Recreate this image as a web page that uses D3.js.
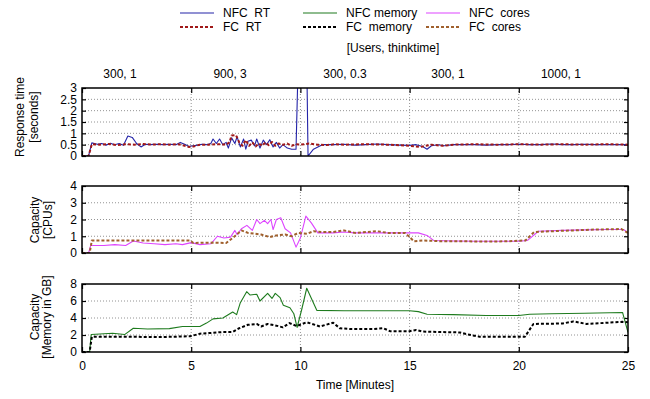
<!DOCTYPE html>
<html>
<head>
<meta charset="utf-8">
<script src="https://cdn.jsdelivr.net/npm/d3@7"></script>
<style>
  body { margin: 0; background: #fff; }
  text { font-family: "Liberation Sans", Arial, sans-serif; font-size: 12px; fill: #000; }
</style>
</head>
<body>
<div id="chart"></div>
<script>
// time in minutes
let timeTicks = [0, 5, 10, 15, 20, 25]
let phaseLabels = ['300, 1', '900, 3', '300, 0.3', '300, 1', '1000, 1']
let phasePos = [1.74, 6.78, 12.04, 16.76, 21.93]

let rtNfc = [[0,0],[0.3,0],[0.45,0.58],[0.7,0.52],[0.9,0.55],[1.1,0.48],[1.3,0.56],[1.5,0.5],[1.7,0.55],[1.9,0.47],
  [2.1,0.88],[2.3,0.82],[2.5,0.55],[2.7,0.4],[2.9,0.52],[3.1,0.5],[3.4,0.52],[3.7,0.5],[4.0,0.52],[4.3,0.5],
  [4.5,0.6],[4.7,0.52],[4.9,0.42],[5.1,0.45],[5.3,0.48],[5.5,0.52],[5.7,0.5],[5.9,0.55],[6.0,0.75],[6.15,0.55],
  [6.3,0.75],[6.45,0.5],[6.6,0.6],[6.7,0.35],[6.85,0.8],[7.0,0.55],[7.1,0.85],[7.25,0.4],[7.4,0.75],[7.5,0.3],
  [7.6,0.65],[7.75,0.7],[7.9,0.45],[8.0,0.75],[8.15,0.35],[8.3,0.7],[8.45,0.5],[8.6,0.72],[8.75,0.4],[8.9,0.6],
  [9.05,0.35],[9.2,0.5],[9.4,0.35],[9.6,0.3],[9.8,0.3],[9.92,5],[10.28,5],[10.35,0],[10.6,0.3],[11.0,0.5],
  [11.5,0.5],[12,0.52],[12.5,0.48],[13,0.5],[13.5,0.53],[14,0.5],[14.5,0.48],[15,0.47],[15.3,0.5],[15.6,0.42],
  [15.8,0.3],[16.0,0.45],[16.3,0.5],[16.6,0.45],[17,0.5],[17.5,0.5],[18,0.5],[18.5,0.48],[19,0.5],[19.5,0.5],
  [20,0.52],[20.5,0.5],[21,0.5],[21.5,0.53],[22,0.5],[22.5,0.5],[23,0.52],[23.5,0.5],[24,0.5],[24.5,0.5],[25,0.5]]

let rtFc = [[0,0],[0.3,0],[0.45,0.52],[0.8,0.5],[1.2,0.53],[1.6,0.48],[2.0,0.52],[2.4,0.5],[2.8,0.53],[3.2,0.5],
  [3.6,0.52],[4.0,0.5],[4.4,0.52],[4.7,0.45],[4.9,0.4],[5.1,0.42],[5.4,0.5],[5.8,0.5],[6.2,0.52],[6.6,0.5],
  [6.75,0.6],[6.85,0.9],[7.05,0.92],[7.2,0.6],[7.35,0.45],[7.5,0.7],[7.65,0.45],[7.8,0.6],[7.95,0.42],[8.1,0.55],
  [8.25,0.45],[8.4,0.6],[8.55,0.48],[8.7,0.62],[8.85,0.45],[9.0,0.55],[9.2,0.5],[9.4,0.55],[9.6,0.45],[9.8,0.52],
  [10.0,0.5],[10.4,0.55],[10.8,0.5],[11.2,0.48],[11.6,0.52],[12,0.5],[13,0.52],[14,0.5],[15,0.45],[15.5,0.4],
  [16,0.5],[16.5,0.45],[17,0.5],[18,0.52],[19,0.5],[20,0.52],[21,0.5],[22,0.52],[23,0.5],[24,0.52],[25,0.5]]

let coresNfc = [[0,0],[0.3,0],[0.4,0.45],[1,0.45],[1.5,0.5],[2.0,0.45],[2.35,0.72],[2.8,0.6],[3.3,0.55],[3.8,0.5],
  [4.3,0.55],[4.6,0.5],[5.0,0.62],[5.4,0.5],[5.9,0.55],[6.2,1.0],[6.5,0.9],[6.8,0.95],[7.0,1.35],[7.1,1.1],
  [7.3,1.45],[7.55,1.65],[7.8,1.35],[8.0,2.0],[8.15,1.75],[8.35,1.95],[8.5,1.75],[8.65,2.0],[8.75,1.4],[8.9,2.0],
  [9.1,2.1],[9.3,1.45],[9.55,1.2],[9.8,0.35],[10.0,0.9],[10.25,2.2],[10.5,1.8],[10.8,1.2],[11.5,1.2],[12,1.25],
  [12.5,1.2],[13,1.2],[13.5,1.2],[14,1.2],[14.5,1.2],[15.0,1.2],[15.4,1.2],[15.8,1.05],[16.1,0.75],[17,0.72],
  [18,0.7],[19,0.7],[20,0.7],[20.4,0.75],[20.9,1.3],[22,1.35],[23,1.38],[24,1.4],[24.8,1.4],[25,1.2]]

let coresFc = [[0,0],[0.35,0],[0.45,0.75],[1,0.75],[2,0.75],[3,0.75],[4,0.75],[4.95,0.75],[5.1,0.6],[6,0.62],
  [6.6,0.6],[6.9,0.9],[7.3,1.35],[7.6,1.2],[8.2,1.1],[8.6,0.95],[8.9,1.05],[9.3,1.1],[9.6,1.0],[9.9,1.2],
  [10.3,1.15],[10.6,1.3],[11,1.25],[11.5,1.25],[12,1.35],[12.5,1.2],[13,1.25],[13.5,1.3],[14,1.2],[14.8,1.2],
  [15.2,0.7],[15.6,0.75],[16.5,0.7],[17.5,0.7],[18.5,0.68],[19.5,0.7],[20.3,0.75],[20.7,1.25],[21.5,1.3],[22.5,1.35],
  [23.5,1.4],[24.7,1.43],[25,1.2]]

let memNfc = [[0,0],[0.35,0],[0.42,2.05],[1.4,2.2],[1.95,2.05],[2.35,2.8],[3,2.7],[4,2.75],[4.6,3.0],[5.4,3.0],
  [5.7,3.4],[6.0,3.9],[6.45,4.0],[6.9,4.7],[7.08,4.4],[7.25,5.8],[7.54,7.1],[7.7,6.7],[8.0,6.8],[8.15,6.0],
  [8.5,6.9],[8.7,6.3],[8.85,6.9],[9.07,6.4],[9.22,5.5],[9.52,5.2],[9.7,4.5],[9.85,2.9],[10.06,5.0],[10.29,7.5],
  [10.75,4.9],[12,4.85],[14,4.85],[15,4.85],[15.4,4.75],[15.8,4.45],[17,4.4],[18.5,4.3],[20,4.3],[20.5,4.45],
  [21.5,4.5],[23,4.55],[24.75,4.65],[25,2.3]]

let memFc = [[0,0],[0.35,0],[0.45,1.8],[2,1.8],[3.5,1.75],[4.95,1.85],[5.4,2.15],[6.45,2.35],[6.9,2.35],[7.2,2.8],
  [7.6,3.2],[8.0,3.3],[8.2,3.0],[8.5,3.3],[8.9,3.1],[9.2,2.9],[9.5,3.4],[9.83,3.05],[10.29,3.5],[10.9,3.0],
  [11.5,3.45],[11.8,2.8],[12.3,2.7],[13.3,2.7],[13.8,2.8],[14.1,2.45],[15,2.45],[15.3,2.6],[15.6,2.4],[17.3,2.3],
  [17.6,2.1],[18.2,1.8],[20.28,1.8],[20.67,3.3],[22,3.35],[22.5,3.6],[23.1,3.3],[24.75,3.55],[25,3.5]]

let legendNames = [['NFC  RT', 'FC  RT'], ['NFC memory', 'FC  memory'], ['NFC  cores', 'FC  cores']]
let legendColors = [['#2424a8', '#a01818'], ['#1e7b1e', '#000000'], ['#dd44ff', '#a0602d']]


let width = 650, height = 399
let left = 82, right = 628

let svg = d3.select('#chart').append('svg')
  .attr('width', width)
  .attr('height', height)

let x = d3.scaleLinear().domain([0, 25]).range([left, right])

let solid = { width: 1.1, dash: null }
let dashed = { width: 2, dash: '3,2' }

let panels = [
  { top: 88, bottom: 156, max: 3, ticks: d3.range(0, 3.01, 0.5), grid: [0.5, 1, 1.5, 2, 2.5], tickSize: 11,
    title: ['Response time', '[seconds]'], titleX: [20, 34], titleY: 117,
    series: [[rtNfc, legendColors[0][0], solid], [rtFc, legendColors[0][1], dashed]] },
  { top: 186, bottom: 253, max: 4, ticks: [0, 1, 2, 3, 4], grid: [1, 2, 3], tickSize: 12,
    title: ['Capacity', '[CPUs]'], titleX: [35, 48], titleY: 220,
    series: [[coresNfc, legendColors[2][0], solid], [coresFc, legendColors[2][1], dashed]] },
  { top: 284, bottom: 352, max: 8, ticks: [0, 2, 4, 6, 8], grid: [2, 4, 6], tickSize: 12,
    title: ['Capacity', '[Memory in GB]'], titleX: [35, 47], titleY: 317,
    series: [[memNfc, legendColors[1][0], solid], [memFc, legendColors[1][1], dashed]] }
]

panels.forEach((p, pi) => {
  let y = d3.scaleLinear().domain([0, p.max]).range([p.bottom, p.top])
  let g = svg.append('g').attr('class', 'panel')

  // grid
  g.selectAll('.hgrid').data(p.grid).enter().append('line')
    .attr('x1', left).attr('x2', right)
    .attr('y1', d => y(d)).attr('y2', d => y(d))
    .attr('stroke', '#777').attr('stroke-width', 0.8).attr('stroke-dasharray', '1,2')
  g.selectAll('.vgrid').data(timeTicks.slice(1, -1)).enter().append('line')
    .attr('x1', d => x(d)).attr('x2', d => x(d))
    .attr('y1', p.top).attr('y2', p.bottom)
    .attr('stroke', '#777').attr('stroke-width', 0.8).attr('stroke-dasharray', '1,2')

  // inner ticks
  let yAxisL = d3.axisLeft(y).tickValues(p.ticks).tickSize(-4).tickFormat(d3.format('~g'))
  let yAxisR = d3.axisRight(y).tickValues(p.ticks).tickSize(-4).tickFormat('')
  let xAxisB = d3.axisBottom(x).tickValues(timeTicks).tickSize(-5).tickFormat(pi == 2 ? d3.format('d') : '')
  let xAxisT = d3.axisTop(x).tickValues(timeTicks).tickSize(-5).tickFormat('')

  let axes = [
    g.append('g').attr('transform', `translate(${left},0)`).call(yAxisL),
    g.append('g').attr('transform', `translate(${right},0)`).call(yAxisR),
    g.append('g').attr('transform', `translate(0,${p.bottom})`).call(xAxisB),
    g.append('g').attr('transform', `translate(0,${p.top})`).call(xAxisT)
  ]
  axes.forEach(a => {
    a.select('.domain').remove()
    a.selectAll('line').attr('stroke', '#000').attr('stroke-width', 1.2)
    a.selectAll('text').attr('font-size', '12px').attr('font-family', '"Liberation Sans", Arial, sans-serif').attr('fill', '#000')
  })
  axes[0].selectAll('text').attr('x', -5).attr('font-size', p.tickSize + 'px')
  axes[2].selectAll('text').attr('y', 9)

  // data
  let clipId = 'clip' + pi
  svg.append('clipPath').attr('id', clipId).append('rect')
    .attr('x', left).attr('y', p.top).attr('width', right - left).attr('height', p.bottom - p.top)

  let line = d3.line().x(d => x(d[0])).y(d => y(d[1]))
  p.series.forEach(s => {
    g.append('path')
      .datum(s[0])
      .attr('clip-path', `url(#${clipId})`)
      .attr('fill', 'none')
      .attr('stroke', s[1])
      .attr('stroke-width', s[2].width)
      .attr('stroke-dasharray', s[2].dash)
      .attr('stroke-linejoin', 'round')
      .attr('d', line)
  })

  // frame
  g.append('rect')
    .attr('x', left).attr('y', p.top)
    .attr('width', right - left).attr('height', p.bottom - p.top)
    .attr('fill', 'none').attr('stroke', '#000').attr('stroke-width', 1.5)

  // title
  p.title.forEach((t, i) => {
    g.append('text')
      .attr('transform', `translate(${p.titleX[i]},${p.titleY}) rotate(-90)`)
      .attr('text-anchor', 'middle')
      .attr('dy', '0.35em')
      .text(t)
  })
})

// phase labels over the top panel
svg.selectAll('.phase').data(phaseLabels).enter().append('text')
  .attr('x', (d, i) => x(phasePos[i]))
  .attr('y', 78)
  .attr('text-anchor', 'middle')
  .text(d => d)

svg.append('text')
  .attr('x', 393).attr('y', 52)
  .attr('text-anchor', 'middle')
  .text('[Users, thinktime]')

svg.append('text')
  .attr('x', x(12.5)).attr('y', 389)
  .attr('text-anchor', 'middle')
  .text('Time [Minutes]')

// legend
let legendX = [180, 303, 426]
let legendY = [13, 27]
legendNames.forEach((col, ci) => {
  col.forEach((name, ri) => {
    let gy = legendY[ri]
    svg.append('line')
      .attr('x1', legendX[ci]).attr('x2', legendX[ci] + 34)
      .attr('y1', gy).attr('y2', gy)
      .attr('stroke', legendColors[ci][ri])
      .attr('stroke-width', ri == 0 ? solid.width : dashed.width)
      .attr('stroke-dasharray', ri == 0 ? null : dashed.dash)
    svg.append('text')
      .attr('x', legendX[ci] + 43).attr('y', gy)
      .attr('dy', '0.35em')
      .style('white-space', 'pre')
      .text(name)
  })
})
</script>
</body>
</html>
